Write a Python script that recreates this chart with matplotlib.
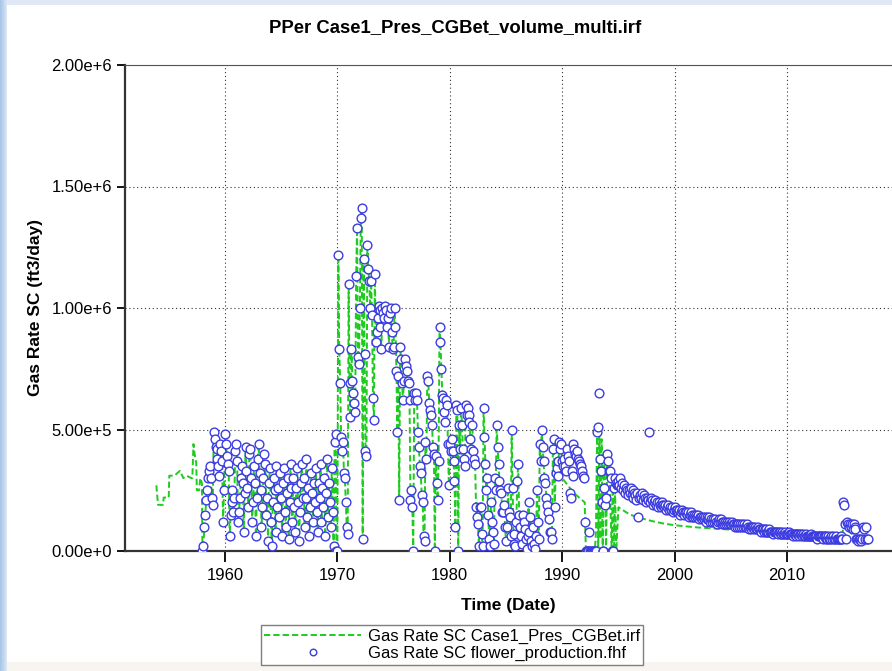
import numpy as np
import matplotlib
matplotlib.use("Agg")
import matplotlib.pyplot as plt
from matplotlib.patches import Rectangle
from matplotlib.ticker import FuncFormatter, MultipleLocator

plt.rcParams['font.family'] = ['Liberation Sans', 'DejaVu Sans']

# Observed gas rate (1e4 ft3/day), one value per month starting Jan 1958
obs_1958_69 = [
    0, 2, 10, 15, 21, 25, 30, 33, 35, 30, 22, 19,
    49, 46, 43, 42, 38, 35, 31, 44, 41, 37, 12, 25,
    48, 44, 39, 36, 33, 6, 15, 20, 25, 16, 22, 41,
    44, 37, 12, 16, 22, 30, 35, 28, 8, 24, 43, 33,
    26, 18, 40, 42, 30, 12, 20, 35, 28, 6, 22, 38,
    44, 32, 25, 10, 18, 30, 40, 36, 15, 22, 4, 28,
    34, 12, 2, 20, 30, 25, 8, 35, 18, 26, 14, 32,
    22, 6, 28, 34, 16, 10, 24, 30, 5, 20, 36, 26,
    12, 30, 18, 8, 26, 34, 20, 4, 16, 28, 36, 22,
    30, 10, 22, 38, 14, 26, 6, 18, 32, 24, 12, 28,
    20, 34, 16, 8, 28, 22, 36, 12, 26, 18, 30, 6,
    24, 38, 14, 28, 20, 10, 34, 16, 2, 45, 48, 0,
]
obs_1970_79 = [
    0, 122, 83, 69, 47, 41, 45, 32, 30, 20, 10, 7,
    110, 69, 55, 83, 70, 65, 61, 57, 113, 133, 80, 77,
    100, 137, 141, 5, 120, 81, 41, 39, 126, 116, 111, 100,
    111, 97, 63, 54, 114, 86, 90, 96, 101, 99, 92, 83,
    100, 98, 96, 101, 99, 92, 96, 84, 98, 100, 90, 83,
    84, 100, 92, 74, 49, 72, 21, 84, 79, 69, 62, 70,
    79, 76, 74, 70, 69, 62, 21, 25, 18, 0, 65, 62,
    65, 62, 49, 43, 35, 32, 23, 20, 6, 4, 45, 38,
    72, 70, 61, 58, 56, 52, 43, 40, 0, 39, 28, 21,
    37, 92, 86, 75, 64, 63, 57, 53, 62, 60, 44, 27,
]
obs_1980_94 = [
    44, 41, 46, 41, 37, 29, 10, 60, 58, 0, 52, 42,
    59, 52, 42, 38, 35, 60, 56, 59, 56, 53, 46, 42,
    52, 41, 38, 36, 18, 14, 11, 2, 18, 18, 7, 2,
    59, 47, 36, 25, 30, 15, 5, 2, 20, 12, 8, 3,
    30, 25, 52, 43, 36, 29, 25, 24, 16, 16, 19, 10,
    4, 10, 26, 16, 14, 6, 50, 26, 7, 3, 2, 12,
    29, 36, 15, 10, 6, 3, 15, 12, 9, 5, 1, 6,
    20, 8, 14, 4, 2, 10, 3, 1, 6, 25, 12, 5,
    44, 37, 50, 43, 37, 30, 28, 22, 19, 16, 13, 8,
    8, 5, 42, 46, 18, 32, 34, 31, 37, 45, 42, 44,
    37, 35, 38, 35, 33, 42, 39, 37, 24, 22, 33, 31,
    44, 42, 40, 39, 41, 38, 37, 36, 35, 33, 31, 30,
    12, 0, 0, 0, 0, 8, 0, 0, 0, 0, 0, 0,
    0, 49, 51, 65, 38, 33, 20, 0, 0, 26, 19, 22,
    40, 37, 33, 33, 30, 0, 0, 26, 30, 28, 27, 27,
]
obs_1995_2017 = [
    29, 27, 30, 26, 28, 25, 27, 24, 26, 25, 23, 25,
    24, 26, 23, 25, 22, 24, 23, 21, 24, 14, 22, 23,
    22, 24, 21, 23, 22, 20, 22, 21, 21, 49, 20, 22,
    21, 19, 20, 21, 19, 20, 18, 20, 19, 18, 20, 19,
    19, 18, 19, 17, 18, 19, 17, 18, 17, 18, 16, 17,
    18, 17, 16, 17, 16, 17, 15, 16, 17, 16, 15, 16,
    16, 15, 16, 14, 15, 16, 14, 15, 14, 15, 14, 15,
    14, 15, 13, 14, 14, 13, 14, 13, 14, 12, 13, 14,
    13, 14, 12, 13, 12, 13, 12, 13, 12, 11, 12, 13,
    12, 13, 11, 12, 12, 11, 12, 11, 12, 11, 12, 11,
    11, 12, 11, 11, 10, 11, 11, 10, 11, 10, 11, 10,
    11, 10, 11, 10, 10, 11, 10, 9, 10, 10, 9, 10,
    10, 9, 10, 9, 9, 10, 9, 9, 8, 9, 9, 8,
    9, 8, 9, 8, 8, 9, 8, 8, 8, 7, 8, 8,
    8, 8, 7, 8, 8, 7, 7, 8, 7, 7, 8, 7,
    7, 7, 8, 7, 7, 7, 6, 7, 7, 7, 6, 7,
    7, 6, 7, 7, 6, 7, 6, 6, 7, 6, 6, 6,
    6, 6, 7, 6, 6, 6, 6, 6, 5, 6, 6, 6,
    6, 6, 5, 6, 6, 5, 6, 5, 6, 5, 5, 6,
    5, 6, 5, 5, 6, 5, 5, 5, 5, 6, 5, 5,
    20, 19, 11, 5, 12, 11, 10, 11, 10, 11, 9, 11,
    10, 9, 5, 5, 4, 5, 5, 4, 5, 10, 9, 5,
    10, 5, 5,
]

# Simulated rate before production data starts (1e4 ft3/day)
sim_pre_t = [1953.9, 1953.95, 1954.05, 1954.5, 1954.55, 1955.0, 1955.05, 1955.5,
             1956.0, 1956.3, 1956.6, 1957.0, 1957.1, 1957.2, 1957.3, 1957.45,
             1957.5, 1957.7, 1957.8, 1957.95]
sim_pre_q = [27, 24, 19, 19, 22, 22, 31, 31, 33, 30, 31, 30, 30, 44, 40, 36,
             25, 25, 30, 28]

# Simulated rate after 1990, where it departs from the observed rates
sim_post_t = [1990.0, 1990.5, 1991.0, 1991.5, 1992.0, 1992.1, 1992.5, 1992.9,
              1993.0, 1993.1, 1993.2, 1993.3, 1993.4, 1993.5, 1993.6, 1993.7,
              1993.8, 1993.9, 1994.0, 1994.2, 1994.4, 1994.5, 1994.6, 1994.7,
              1994.8, 1995.0, 1995.5, 1996.0, 1997.0, 1998.0, 1999.0, 2000.0,
              2002.0, 2004.0, 2006.0, 2008.0, 2010.0, 2012.0, 2014.0, 2014.9,
              2015.0, 2015.5, 2016.0, 2016.5, 2017.0]
sim_post_q = [30, 27, 24, 22, 20, 0, 0, 0, 8, 49, 0, 48, 5, 46, 0, 40,
              30, 0, 38, 33, 0, 30, 0, 25, 0, 18, 16.5, 15, 13.5, 12.3, 11.3, 10.6,
              9.7, 9.1, 8.5, 7.6, 7.0, 6.4, 5.8, 5.5,
              11, 8, 6, 5, 5]

obs_q = np.array(obs_1958_69 + obs_1970_79 + obs_1980_94 + obs_1995_2017) * 1e4
obs_t = 1958.0 + np.arange(len(obs_q)) / 12.0

# history-matched part of the run honours the observed rates up to 1990
hist = obs_t < 1990.0
sim_t = np.concatenate([sim_pre_t, obs_t[hist], sim_post_t])
sim_q = np.concatenate([np.array(sim_pre_q) * 1e4, obs_q[hist], np.array(sim_post_q) * 1e4])


def sci_label(v, pos):
    m, e = f"{v:.2e}".split("e")
    return f"{m}e{int(e):+d}"


fig = plt.figure(figsize=(8.92, 6.71), dpi=100)
fig.patch.set_facecolor('#dfe8f4')
fig.add_artist(Rectangle((7 / 892, 0), 1, 9 / 671, transform=fig.transFigure,
                         facecolor='#f8f4ef', edgecolor='none', zorder=-10))
fig.add_artist(Rectangle((7 / 892, 9 / 671), 1, (671 - 14) / 671, transform=fig.transFigure,
                         facecolor='white', edgecolor='none', zorder=-9))
# blue gradient strip on the left edge
edge = fig.add_axes([0, 0, 7 / 892, 1])
grad = np.linspace(0, 1, 7)[None, :] * np.ones((50, 1))
edge.imshow(grad, aspect='auto', cmap=matplotlib.colors.LinearSegmentedColormap.from_list(
    'edge', ['#a9c6e8', '#d8e5f3']), extent=(0, 1, 0, 1))
edge.axis('off')

ax = fig.add_axes([125 / 892, 1 - 551 / 671, 1 - 125 / 892, (551 - 65) / 671])
sim_line, = ax.plot(sim_t, sim_q, color='#1ecb1e', lw=1.4, dashes=(3.2, 1.6), zorder=2)
obs_pts, = ax.plot(obs_t, obs_q, ls='none', marker='o', ms=6.3, mfc='white',
                   mec='#3c3ce0', mew=1.0, zorder=3)

ax.set_xlim(1951.11, 2019.33)
ax.set_ylim(0, 2e6)
ax.xaxis.set_major_locator(MultipleLocator(10))
ax.yaxis.set_major_locator(MultipleLocator(5e5))
ax.yaxis.set_major_formatter(FuncFormatter(sci_label))
ax.grid(True, color='#333333', ls=(0, (1, 2.5)), lw=0.8)
ax.tick_params(direction='out', length=6, width=1.3, labelsize=12, colors='black')
ax.tick_params(axis='x', length=8, pad=4)
for side in ('left', 'bottom'):
    ax.spines[side].set_linewidth(1.6)
    ax.spines[side].set_color('#333333')
ax.spines['top'].set_linewidth(0.8)
ax.spines['top'].set_color('#555555')
ax.spines['right'].set_visible(False)

fig.text(455 / 892, 1 - 28 / 671, 'PPer Case1_Pres_CGBet_volume_multi.irf',
         fontsize=13.3, fontweight='bold', ha='center', va='center')
ax.set_xlabel('Time (Date)', fontsize=12.5, fontweight='bold', labelpad=11)
ax.set_ylabel('Gas Rate SC (ft3/day)', fontsize=12.5, fontweight='bold', labelpad=6)

leg = fig.legend([sim_line, obs_pts],
                 ['Gas Rate SC Case1_Pres_CGBet.irf', 'Gas Rate SC flower_production.fhf'],
                 loc='center', bbox_to_anchor=(452 / 892, 1 - 645 / 671), fontsize=12,
                 fancybox=False, framealpha=1, edgecolor='#7f7f7f', borderpad=0.2,
                 labelspacing=0.15, handlelength=5.8, handletextpad=0.4, markerscale=0.75)
leg.get_frame().set_linewidth(1.0)

fig.savefig('out.png', dpi=100, facecolor=fig.get_facecolor())
